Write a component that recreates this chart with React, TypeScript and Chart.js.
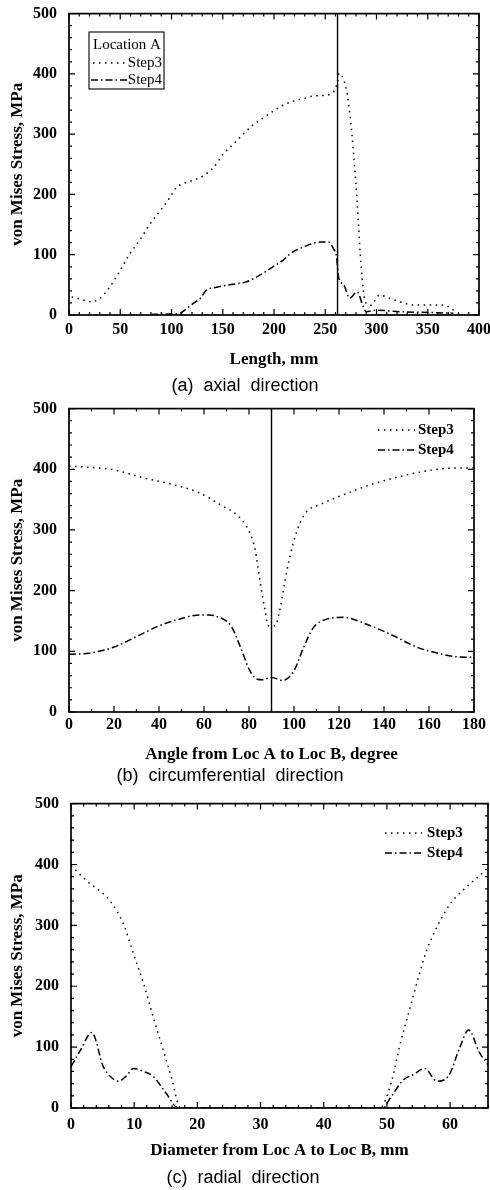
import React, { useEffect, useRef } from "react";
import { Chart, registerables } from "chart.js";

Chart.register(...registerables);

const SERIF = '"Liberation Serif", "Times New Roman", serif';
const SANS = '"Liberation Sans", Arial, sans-serif';

// ---------- Panel (a): axial direction ----------
const A_STEP3_X = [2.6, 14, 22, 30, 40, 50, 59.5, 69, 79, 89, 98.5, 105, 110, 120, 131, 141, 150.5, 160, 170, 180, 189.6, 199, 209, 219, 229, 237, 245, 254.6, 259.5, 262, 263.5, 266.5, 271.5, 276, 281, 285, 289, 294, 303, 313, 323, 336, 352, 365, 373, 378];
const A_STEP3_Y = [30, 25, 22, 27.5, 47, 74, 102, 124, 151, 173, 195, 212, 217, 223, 231, 245, 267, 283, 300, 316, 327, 338, 348, 355, 359, 363, 364, 366, 374, 388, 401, 396, 366, 300, 190, 80, 22, 16, 33, 27.5, 22, 16.5, 16.5, 16.5, 11, 3];
const A_STEP4_X = [80, 108, 115, 121, 128, 134, 144, 160, 173, 186, 199, 209, 216, 229, 245, 253, 258, 261, 263, 268, 274, 281, 287, 290, 300, 323, 355, 375];
const A_STEP4_Y = [1, 3, 11, 19, 27.5, 41, 46, 51, 55, 66, 80, 91, 102, 113, 121, 121, 110, 96, 63, 50, 28, 38.5, 14, 5.5, 8, 5.5, 4, 3];
const A_MARK_X = [262, 262];
const A_MARK_Y = [0, 500];

// ---------- Panel (b): circumferential direction ----------
const B_STEP3_X = [0, 10, 20, 33, 46, 58, 67, 76, 80.4, 82.7, 85, 87, 88.6, 91.6, 93.8, 96.7, 99.7, 102.7, 105.6, 111.6, 122, 132, 147, 162, 172, 180];
const B_STEP3_Y = [405, 403, 399, 386, 375, 361, 342, 320, 295, 268, 213, 170, 142, 142, 170, 230, 279, 312, 330, 342, 358, 372, 388, 399, 402, 402];
const B_STEP4_X = [0, 9, 20, 32, 40, 49, 58, 62, 66, 72, 76, 80, 83, 86, 90, 95, 100, 104, 108.6, 114.5, 122, 132, 144, 154.5, 165, 172, 180];
const B_STEP4_Y = [95, 97, 107, 128, 142, 153, 160, 160, 157, 142, 109, 71, 55, 53, 57, 52, 68, 104, 139, 153, 156, 145, 126, 107, 96, 91, 90];
const B_MARK_X = [90, 90];
const B_MARK_Y = [0, 500];

// ---------- Panel (c): radial direction ----------
const C_STEP3_X = [0, 2.5, 6.2, 8.3, 9.9, 11.5, 13, 14.6, 16, 17, 17.5, 30, 48.8, 49.4, 50.8, 52, 53.7, 55.3, 56.3, 57.9, 60, 62.6, 64.7, 66];
const C_STEP3_Y = [398, 373, 340, 302, 253, 204, 150, 95, 46, 5, 0, 0, 0, 5, 46, 101, 166, 226, 259, 297, 335, 363, 382, 395];
const C_STEP4_X = [0, 1.5, 3.3, 5.1, 6.2, 7.5, 8.7, 9.9, 11.5, 13, 15, 17, 30, 49.4, 50.5, 52.6, 54.2, 56, 57.9, 59.7, 61.6, 62.9, 64.7, 66];
const C_STEP4_Y = [68, 95, 124, 68, 52, 44, 52, 65, 60, 52, 25, 0, 0, 0, 16, 46, 55, 65, 44, 52, 101, 128, 90, 71];

const Y_TITLE = "von Mises Stress, MPa";
const LEGEND_LABELS = ["Step3", "Step4"];

const DOT = [1.5, 4.5];
const DASHDOT = [7, 3, 1.5, 3];

const pts = (xs: number[], ys: number[]) => xs.map((x, i) => ({ x, y: ys[i] }));

type LegendItem = { label: string; dash: number[]; x1: number; x2: number; y: number; tx: number; align: CanvasTextAlign };
type Spec = {
  T: number; H: number;
  padTop: number; padRight: number; yWidth: number; xHeight: number;
  xTitlePad: number; xTickPad: number;
  xMax: number; xMajor: number; xMinor: number;
  xTitle: string;
  series: { xs: number[]; ys: number[]; dash: number[] }[];
  mark?: { xs: number[]; ys: number[] };
  legend: { box?: [number, number, number, number]; title?: { text: string; x: number; y: number }; bold: boolean; items: LegendItem[] };
  caption: { text: string; cx: number; cy: number };
};

const SPECS: Spec[] = [
  {
    T: 0, H: 395, padTop: 12, padRight: 11, yWidth: 69, xHeight: 80, xTitlePad: 25, xTickPad: -3,
    xMax: 400, xMajor: 50, xMinor: 10, xTitle: "Length, mm",
    series: [
      { xs: A_STEP3_X, ys: A_STEP3_Y, dash: DOT },
      { xs: A_STEP4_X, ys: A_STEP4_Y, dash: DASHDOT },
    ],
    mark: { xs: A_MARK_X, ys: A_MARK_Y },
    legend: {
      box: [89, 32, 164, 89],
      title: { text: "Location A", x: 93, y: 45 },
      bold: false,
      items: [
        { label: LEGEND_LABELS[0], dash: DOT, x1: 93, x2: 125, y: 63, tx: 162, align: "right" },
        { label: LEGEND_LABELS[1], dash: DASHDOT, x1: 91, x2: 127, y: 80, tx: 162, align: "right" },
      ],
    },
    caption: { text: "(a) axial direction", cx: 245, cy: 385 },
  },
  {
    T: 395, H: 395, padTop: 12, padRight: 16, yWidth: 69, xHeight: 78, xTitlePad: 25, xTickPad: -5,
    xMax: 180, xMajor: 20, xMinor: 10, xTitle: "Angle from Loc A to Loc B, degree",
    series: [
      { xs: B_STEP3_X, ys: B_STEP3_Y, dash: DOT },
      { xs: B_STEP4_X, ys: B_STEP4_Y, dash: DASHDOT },
    ],
    mark: { xs: B_MARK_X, ys: B_MARK_Y },
    legend: {
      bold: true,
      items: [
        { label: LEGEND_LABELS[0], dash: DOT, x1: 378, x2: 415, y: 35, tx: 418, align: "left" },
        { label: LEGEND_LABELS[1], dash: DASHDOT, x1: 378, x2: 415, y: 55, tx: 418, align: "left" },
      ],
    },
    caption: { text: "(b) circumferential direction", cx: 230, cy: 775 },
  },
  {
    T: 790, H: 400, padTop: 13, padRight: 2, yWidth: 71, xHeight: 82, xTitlePad: 29, xTickPad: -1,
    xMax: 66, xMajor: 10, xMinor: 2, xTitle: "Diameter from Loc A to Loc B, mm",
    series: [
      { xs: C_STEP3_X, ys: C_STEP3_Y, dash: DOT },
      { xs: C_STEP4_X, ys: C_STEP4_Y, dash: DASHDOT },
    ],
    legend: {
      bold: true,
      items: [
        { label: LEGEND_LABELS[0], dash: DOT, x1: 385, x2: 422, y: 43, tx: 427, align: "left" },
        { label: LEGEND_LABELS[1], dash: DASHDOT, x1: 385, x2: 422, y: 63, tx: 427, align: "left" },
      ],
    },
    caption: { text: "(c) radial direction", cx: 243, cy: 1177 },
  },
];

const isMajor = (v: number, step: number) => Math.abs(v / step - Math.round(v / step)) < 1e-6;

function makeFramePlugin(spec: Spec) {
  return {
    id: "frameAndLegend",
    afterDatasetsDraw(chart: any) {
      const { ctx, chartArea: a, scales } = chart;
      const x = scales.x;
      const y = scales.y;
      ctx.save();
      ctx.strokeStyle = "#000";
      ctx.setLineDash([]);
      ctx.lineWidth = 1.2;
      ctx.beginPath();
      for (let v = 0; v <= spec.xMax + 1e-9; v += spec.xMinor) {
        const px = x.getPixelForValue(v);
        const len = isMajor(v, spec.xMajor) ? 6 : 3;
        ctx.moveTo(px, a.bottom);
        ctx.lineTo(px, a.bottom - len);
        ctx.moveTo(px, a.top);
        ctx.lineTo(px, a.top + len);
      }
      for (let v = 0; v <= 500 + 1e-9; v += 20) {
        const py = y.getPixelForValue(v);
        const len = isMajor(v, 100) ? 6 : 3;
        ctx.moveTo(a.left, py);
        ctx.lineTo(a.left + len, py);
        ctx.moveTo(a.right, py);
        ctx.lineTo(a.right - len, py);
      }
      ctx.stroke();
      ctx.lineWidth = 1.7;
      ctx.strokeRect(a.left, a.top, a.right - a.left, a.bottom - a.top);

      // legend
      const lg = spec.legend;
      ctx.fillStyle = "#000";
      if (lg.box) {
        ctx.lineWidth = 1.1;
        const [x1, y1, x2, y2] = lg.box;
        ctx.fillStyle = "#fff";
        ctx.fillRect(x1, y1, x2 - x1, y2 - y1);
        ctx.strokeRect(x1, y1, x2 - x1, y2 - y1);
        ctx.fillStyle = "#000";
      }
      ctx.font = `${lg.bold ? "bold " : ""}15px ${SERIF}`;
      ctx.textBaseline = "middle";
      if (lg.title) {
        ctx.textAlign = "left";
        ctx.fillText(lg.title.text, lg.title.x, lg.title.y);
      }
      for (const it of lg.items) {
        ctx.lineWidth = 1.4;
        ctx.setLineDash(it.dash);
        ctx.beginPath();
        ctx.moveTo(it.x1, it.y);
        ctx.lineTo(it.x2, it.y);
        ctx.stroke();
        ctx.setLineDash([]);
        ctx.textAlign = it.align;
        ctx.fillText(it.label, it.tx, it.y);
      }
      ctx.restore();
    },
  };
}

function Panel({ spec }: { spec: Spec }) {
  const ref = useRef<HTMLCanvasElement>(null);
  useEffect(() => {
    const datasets: any[] = spec.series.map((s, i) => ({
      label: LEGEND_LABELS[i],
      data: pts(s.xs, s.ys),
      borderColor: "#000",
      borderWidth: 1.5,
      borderDash: s.dash,
      pointRadius: 0,
      cubicInterpolationMode: "monotone",
      fill: false,
    }));
    if (spec.mark) {
      datasets.push({
        label: "mark",
        data: pts(spec.mark.xs, spec.mark.ys),
        borderColor: "#000",
        borderWidth: 1.4,
        pointRadius: 0,
        tension: 0,
        fill: false,
      });
    }
    const tickFont = { family: SERIF, size: 16, weight: "bold" as const };
    const titleFont = { family: SERIF, size: 17, weight: "bold" as const };
    const chart = new Chart(ref.current!, {
      type: "line",
      data: { datasets },
      options: {
        animation: false,
        responsive: false,
        maintainAspectRatio: false,
        layout: { padding: { top: spec.padTop, right: spec.padRight, left: 0, bottom: 0 } },
        plugins: { legend: { display: false }, tooltip: { enabled: false } },
        scales: {
          x: {
            type: "linear",
            min: 0,
            max: spec.xMax,
            grid: { display: false },
            border: { display: false },
            ticks: {
              stepSize: spec.xMajor,
              color: "#000",
              font: tickFont,
              padding: spec.xTickPad,
              maxRotation: 0,
              autoSkip: false,
            },
            afterBuildTicks: (s: any) => {
              s.ticks = s.ticks.filter((t: any) => isMajor(t.value, spec.xMajor));
            },
            afterFit: (s: any) => {
              s.height = spec.xHeight;
            },
            title: {
              display: true,
              text: spec.xTitle,
              color: "#000",
              font: titleFont,
              padding: { top: 0, bottom: spec.xTitlePad },
            },
          },
          y: {
            type: "linear",
            min: 0,
            max: 500,
            grid: { display: false },
            border: { display: false },
            ticks: { stepSize: 100, color: "#000", font: tickFont, padding: 4 },
            afterFit: (s: any) => {
              s.width = spec.yWidth;
            },
            title: {
              display: true,
              text: Y_TITLE,
              color: "#000",
              font: titleFont,
              padding: { top: 7, bottom: 0 },
            },
          },
        },
      },
      plugins: [makeFramePlugin(spec)],
    });
    return () => chart.destroy();
  }, [spec]);
  return (
    <canvas
      ref={ref}
      width={490}
      height={spec.H}
      style={{ position: "absolute", left: 0, top: spec.T, width: 490, height: spec.H }}
    />
  );
}

export default function App() {
  return (
    <div style={{ position: "absolute", left: 0, top: 0, width: 490, height: 1190, background: "#fff", overflow: "hidden" }}>
      {SPECS.map((s, i) => (
        <Panel key={i} spec={s} />
      ))}
      {SPECS.map((s, i) => (
        <div
          key={"c" + i}
          style={{
            position: "absolute",
            left: s.caption.cx,
            top: s.caption.cy,
            transform: "translate(-50%, -50%)",
            whiteSpace: "nowrap",
            font: `18px ${SANS}`,
            lineHeight: 1,
            wordSpacing: 5,
            color: "#000",
          }}
        >
          {s.caption.text}
        </div>
      ))}
    </div>
  );
}
